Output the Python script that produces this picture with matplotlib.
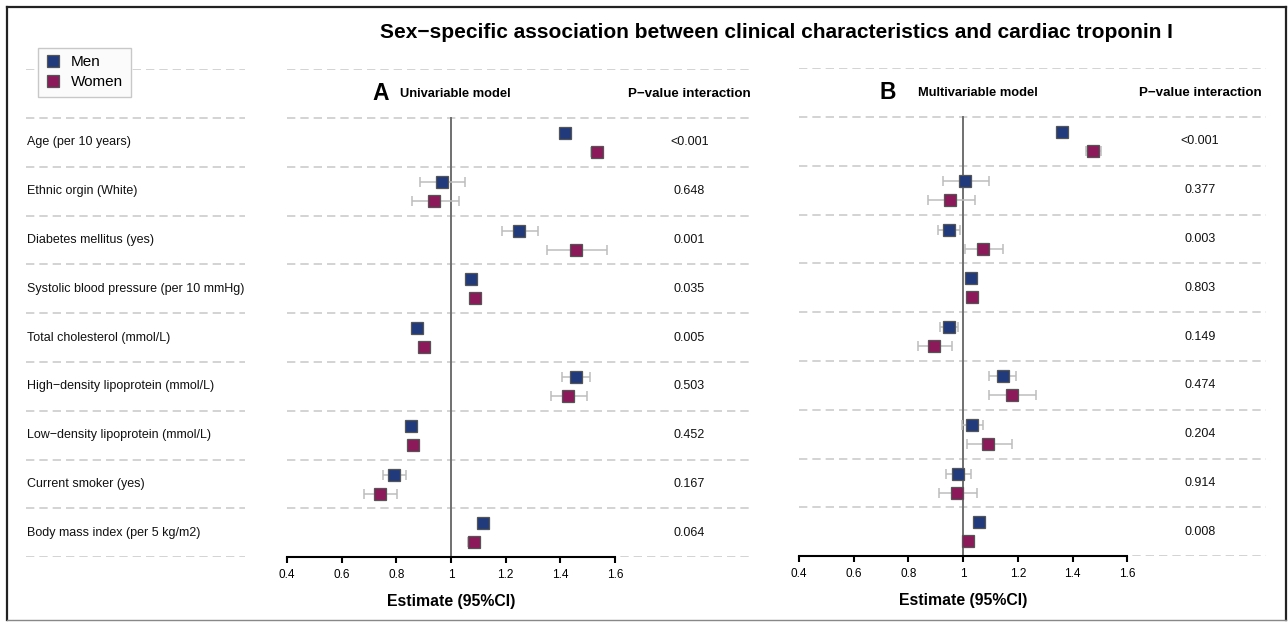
import matplotlib
matplotlib.use("Agg")
import matplotlib.pyplot as plt
from matplotlib.lines import Line2D
import matplotlib.transforms as mtransforms

plt.rcParams['font.family'] = ['Liberation Sans', 'DejaVu Sans']

# ---- data -------------------------------------------------------------
categories = [
    "Age (per 10 years)",
    "Ethnic orgin (White)",
    "Diabetes mellitus (yes)",
    "Systolic blood pressure (per 10 mmHg)",
    "Total cholesterol (mmol/L)",
    "High\u2212density lipoprotein (mmol/L)",
    "Low\u2212density lipoprotein (mmol/L)",
    "Current smoker (yes)",
    "Body mass index (per 5 kg/m2)",
]

# Univariable model
uni_men_est = [1.419, 0.966, 1.249, 1.073, 0.876, 1.459, 0.855, 0.791, 1.117]
uni_men_lo = [1.400, 0.887, 1.188, 1.060, 0.862, 1.408, 0.842, 0.751, 1.100]
uni_men_hi = [1.438, 1.051, 1.317, 1.086, 0.890, 1.509, 0.868, 0.837, 1.134]
uni_women_est = [1.533, 0.938, 1.457, 1.089, 0.900, 1.428, 0.860, 0.740, 1.083]
uni_women_lo = [1.512, 0.856, 1.350, 1.074, 0.884, 1.365, 0.846, 0.683, 1.064]
uni_women_hi = [1.554, 1.031, 1.572, 1.104, 0.916, 1.497, 0.874, 0.802, 1.102]
uni_pvals = ["<0.001", "0.648", "0.001", "0.035", "0.005", "0.503", "0.452", "0.167", "0.064"]

# Multivariable model
multi_men_est = [1.363, 1.007, 0.950, 1.029, 0.949, 1.144, 1.034, 0.982, 1.058]
multi_men_lo = [1.345, 0.927, 0.909, 1.012, 0.916, 1.096, 0.995, 0.939, 1.040]
multi_men_hi = [1.381, 1.095, 0.990, 1.046, 0.982, 1.194, 1.073, 1.028, 1.076]
multi_women_est = [1.475, 0.952, 1.073, 1.032, 0.895, 1.179, 1.091, 0.977, 1.016]
multi_women_lo = [1.448, 0.870, 1.005, 1.014, 0.836, 1.096, 1.015, 0.912, 0.998]
multi_women_hi = [1.505, 1.044, 1.146, 1.050, 0.961, 1.268, 1.177, 1.049, 1.034]
multi_pvals = ["<0.001", "0.377", "0.003", "0.803", "0.149", "0.474", "0.204", "0.914", "0.008"]

xticks = [0.4, 0.6, 0.8, 1.0, 1.2, 1.4, 1.6]
xtick_labels = ["0.4", "0.6", "0.8", "1", "1.2", "1.4", "1.6"]

MEN_COLOR = "#213a7c"
WOMEN_COLOR = "#8c1a5a"
EDGE = "#555555"
GRID = "#cccccc"
CI_COLOR = "#bdbdbd"

# ---- figure -----------------------------------------------------------
W, H = 1288, 623
fig = plt.figure(figsize=(W / 100, H / 100), dpi=100)


def box(left, right, top, bottom):
    return [left / W, 1 - bottom / H, (right - left) / W, (bottom - top) / H]


n = len(categories)
row_y = [n - i - 0.5 for i in range(n)]
offset = 0.195
dash = dict(color=GRID, lw=1.2, dashes=(5, 3))

# label column
axL = fig.add_axes(box(26, 245, 69.3, 557.3))
axL.set_xlim(0, 1)
axL.set_ylim(0, n + 1)
axL.axis("off")
for k in range(n + 2):
    axL.axhline(k, **dash)
for y, lab in zip(row_y, categories):
    axL.text(0.003, y, lab, ha="left", va="center", fontsize=9, color="#111111")


def panel(rect, xmax, letter, model, men, women, pvals, letter_x, model_x, p_x):
    ax = fig.add_axes(rect)
    ax.set_xlim(0.4, xmax)
    ax.set_ylim(0, n + 1)
    for k in range(n + 2):
        ax.axhline(k, zorder=0, **dash)
    ax.plot([1, 1], [0, n], color="#707070", lw=1.4, zorder=1)

    for (est, lo, hi), color, dy in ((men, MEN_COLOR, offset), (women, WOMEN_COLOR, -offset)):
        ys = [y + dy for y in row_y]
        xerr = [[e - l for e, l in zip(est, lo)], [h - e for e, h in zip(est, hi)]]
        ax.errorbar(est, ys, xerr=xerr, fmt="none", ecolor=CI_COLOR, elinewidth=1.1,
                    capsize=3.6, capthick=1.1, zorder=2)
        ax.plot(est, ys, ls="none", marker="s", markersize=9.2, markerfacecolor=color,
                markeredgecolor=EDGE, markeredgewidth=0.9, zorder=3)

    for y, p in zip(row_y, pvals):
        ax.text(p_x, y, p, ha="center", va="center", fontsize=9, color="#111111")

    hy = n + 0.5
    ax.text(letter_x, hy, letter, ha="left", va="center", fontsize=16.5, fontweight="bold")
    ax.text(model_x, hy, model, ha="left", va="center", fontsize=9.3, fontweight="bold")
    ax.text(p_x, hy, "P\u2212value interaction", ha="center", va="center", fontsize=9.6,
            fontweight="bold")

    for s in ("top", "right", "left"):
        ax.spines[s].set_visible(False)
    ax.spines["bottom"].set_bounds(0.4, 1.6)
    ax.spines["bottom"].set_linewidth(1.5)
    ax.spines["bottom"].set_zorder(4)
    ax.set_yticks([])
    ax.set_xticks(xticks)
    ax.set_xticklabels(xtick_labels)
    ax.tick_params(axis="x", length=4.5, width=1.5, pad=4, labelsize=8.5)
    trans = mtransforms.blended_transform_factory(ax.transData, ax.transAxes)
    ax.text(1.0, -0.09, "Estimate (95%CI)", transform=trans, ha="center", va="center",
            fontsize=11.4, fontweight="bold")
    return ax


panel(box(287, 752, 69.3, 557.3), 0.4 + 465 / 273.3, "A", "Univariable model",
      (uni_men_est, uni_men_lo, uni_men_hi),
      (uni_women_est, uni_women_lo, uni_women_hi),
      uni_pvals, 0.712, 0.8135, 1.872)

panel(box(799, 1266, 68.3, 556.3), 0.4 + 467 / 273.6, "B", "Multivariable model",
      (multi_men_est, multi_men_lo, multi_men_hi),
      (multi_women_est, multi_women_lo, multi_women_hi),
      multi_pvals, 0.696, 0.835, 1.866)

fig.text(776.5 / W, 1 - 33 / H,
         "Sex\u2212specific association between clinical characteristics and cardiac troponin I",
         ha="center", va="center", fontsize=15, fontweight="bold")

handles = [
    Line2D([], [], ls="none", marker="s", markersize=9, markerfacecolor=MEN_COLOR,
           markeredgecolor=EDGE, markeredgewidth=0.9, label="Men"),
    Line2D([], [], ls="none", marker="s", markersize=9, markerfacecolor=WOMEN_COLOR,
           markeredgecolor=EDGE, markeredgewidth=0.9, label="Women"),
]
leg = fig.legend(handles=handles, loc="upper left", bbox_to_anchor=(38 / W, 1 - 47.7 / H),
                 borderaxespad=0, frameon=True, fancybox=False, fontsize=11,
                 handlelength=0.9, handletextpad=0.75, labelspacing=0.38, borderpad=0.5,
                 edgecolor="#c8c8c8", facecolor="#fbfbfb", framealpha=1)
leg.get_frame().set_linewidth(1.0)

# outer frame
frame = dict(transform=fig.transFigure, color="#222222", lw=1.6, clip_on=False)
fig.add_artist(Line2D([6.5 / W, 6.5 / W], [1 - 7 / H, 1 - 620 / H], **frame))
fig.add_artist(Line2D([6.5 / W, 1286 / W], [1 - 7 / H, 1 - 7 / H], **frame))
fig.add_artist(Line2D([1286 / W, 1286 / W], [1 - 7 / H, 1 - 620 / H], **frame))
fig.add_artist(Line2D([6.5 / W, 1286 / W], [1 - 620 / H, 1 - 620 / H],
                      transform=fig.transFigure, color="#888888", lw=1.0))

fig.savefig("out.png", dpi=100, facecolor="white")
